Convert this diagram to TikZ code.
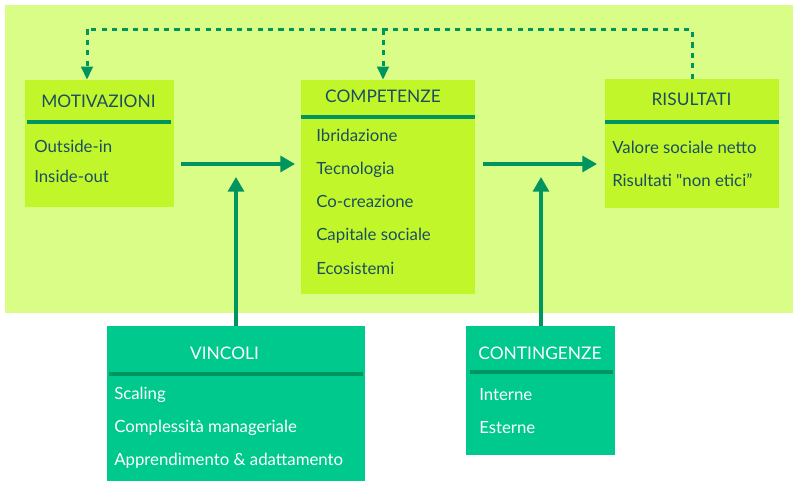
\documentclass[tikz,border=0pt]{standalone}
\usepackage{fontspec}
\setmainfont{Lato}[Ligatures=TeXOff]
\usetikzlibrary{arrows.meta}
\definecolor{bglight}{HTML}{DAFD88}
\definecolor{lime}{HTML}{C1F72A}
\definecolor{teal}{HTML}{00C98D}
\definecolor{dgreen}{HTML}{00955E}
\definecolor{txtdark}{HTML}{1C4E63}
\tikzset{
  limebox/.style={fill=lime, draw=none, inner sep=0pt},
  tealbox/.style={fill=teal, draw=none, inner sep=0pt},
  sepline/.style={draw=dgreen, line width=2.6pt},
  flow/.style={draw=dgreen, line width=2.3pt, -{Triangle[length=11pt,width=12pt]}},
  fb/.style={draw=dgreen, line width=2.25pt, dash pattern=on 3.9pt off 3.9pt},
  fbarrow/.style={fb, -{Triangle[length=9.75pt,width=8.5pt]}},
  ttl/.style={anchor=base, inner sep=0pt, font=\fontsize{13}{15}\selectfont},
  itm/.style={anchor=base west, inner sep=0pt, font=\fontsize{12.6}{15}\selectfont},
}
\begin{document}
\begin{tikzpicture}[x=0.75pt,y=-0.75pt]
\useasboundingbox (0,0) rectangle (793,481);
\fill[white] (0,0) rectangle (793,481);
\node[fill=bglight, inner sep=0pt, minimum width=788*0.75pt, minimum height=308*0.75pt] (bg) at (399,159) {};

% boxes
\node[limebox, minimum width=149*0.75pt, minimum height=127*0.75pt] (mot) at (99.5,143.5) {};
\node[limebox, minimum width=174*0.75pt, minimum height=214*0.75pt] (comp) at (388,187) {};
\node[limebox, minimum width=174*0.75pt, minimum height=129*0.75pt] (ris) at (692,143.5) {};
\node[tealbox, minimum width=258*0.75pt, minimum height=155*0.75pt] (vinc) at (236,403.5) {};
\node[tealbox, minimum width=149*0.75pt, minimum height=129*0.75pt] (cont) at (540.5,390.5) {};

% separators
\draw[sepline] (27,122) -- (171,122);
\draw[sepline] (comp.west |- 0,117) -- (comp.east |- 0,117);
\draw[sepline] (ris.west |- 0,122) -- (ris.east |- 0,122);
\draw[sepline] (109,374) -- (363,374);
\draw[sepline] (470,372) -- (613,372);

% titles
\node[ttl, text=txtdark] (tmot) at (98.5,108) {MOTIVAZIONI};
\node[ttl, text=txtdark] (tcomp) at (383,103) {COMPETENZE};
\node[ttl, text=txtdark] (tris) at (691.5,106) {RISULTATI};
\node[ttl, text=white] (tvinc) at (224.5,359) {VINCOLI};
\node[ttl, text=white] (tcont) at (540,359) {CONTINGENZE};

% items
\node[itm, text=txtdark] (m1) at (34,153) {Outside-in};
\node[itm, text=txtdark] (m2) at (34,183) {Inside-out};
\node[itm, text=txtdark] (c1) at (316,142) {Ibridazione};
\node[itm, text=txtdark] (c2) at (316,175) {Tecnologia};
\node[itm, text=txtdark] (c3) at (316,208) {Co-creazione};
\node[itm, text=txtdark] (c4) at (316,241) {Capitale sociale};
\node[itm, text=txtdark] (c5) at (316,274) {Ecosistemi};
\node[itm, text=txtdark] (r1) at (612,154) {Valore sociale netto};
\node[itm, text=txtdark] (r2) at (612,187) {Risultati "non etici”};
\node[itm, text=white] (v1) at (114,399) {Scaling};
\node[itm, text=white] (v2) at (114,432) {Complessità manageriale};
\node[itm, text=white] (v3) at (114,465) {Apprendimento \& adattamento};
\node[itm, text=white] (k1) at (479,400) {Interne};
\node[itm, text=white] (k2) at (479,433) {Esterne};

% flow arrows
\coordinate (a1s) at (181,164);
\coordinate (a1e) at (295,164);
\coordinate (a2s) at (483,164);
\coordinate (a2e) at (597,164);
\draw[flow] (a1s) -- (a1e);
\draw[flow] (a2s) -- (a2e);
\coordinate (v1e) at (236,177);
\coordinate (v2e) at (541,177);
\draw[flow] (vinc.north) -- (v1e);
\draw[flow] (cont.north -| v2e) -- (v2e);

% feedback dashed
\coordinate (fR) at (692,29.5);
\coordinate (fL) at (87,29.5);
\coordinate (fM) at (383,29.5);
\draw[fb] (ris.north) -- (fR) -- (fL);
\draw[fbarrow] (fL) -- (fL |- mot.north);
\draw[fbarrow] (fM) -- (fM |- comp.north);
\end{tikzpicture}
\end{document}
